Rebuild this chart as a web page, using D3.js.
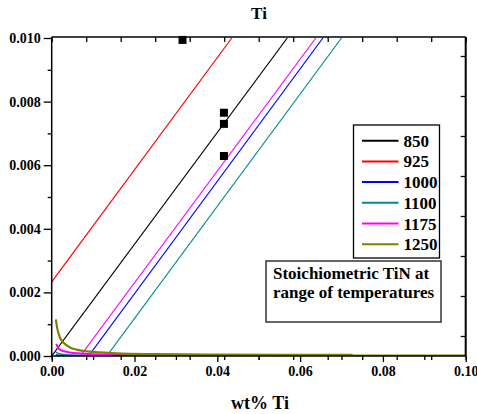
<!DOCTYPE html>
<html>
<head>
<meta charset="utf-8">
<script src="https://cdn.jsdelivr.net/npm/d3@7"></script>
<style>
  body { margin: 0; background: #fff; }
</style>
</head>
<body>
<div id="chart"></div>
<script>
// legend entries (temperatures) and their colours
const temps = ['850', '925', '1000', '1100', '1175', '1250']
const colors = ['#000000', '#ff0000', '#0000ff', '#008b8b', '#ff00ff', '#808000']

// stoichiometric straight lines: [x, y] at start and end
const stoichLines = [
  { temp: '850', pts: [[0.0, 0.0], [0.0569, 0.010]] },
  { temp: '925', pts: [[0.0, 0.00233], [0.0435, 0.010]] },
  { temp: '1000', pts: [[0.0089, 0.0], [0.0655, 0.010]] },
  { temp: '1100', pts: [[0.0133, 0.0], [0.0700, 0.010]] },
  { temp: '1175', pts: [[0.0069, 0.0], [0.0638, 0.010]] },
]

// solubility curves near the x axis (estimated points)
const curve1250 = [[0.0010, 0.00115], [0.0013, 0.00090], [0.0016, 0.00073], [0.0020, 0.00058], [0.0030, 0.00040],
  [0.0044, 0.00027], [0.0060, 0.00020], [0.0093, 0.000135], [0.0157, 0.000085], [0.0250, 0.000060],
  [0.0400, 0.000045], [0.0725, 0.000035], [0.0726, 0.000012], [0.1000, 0.000012]]
const curve1175 = [[0.0011, 0.00038], [0.0015, 0.00027], [0.0020, 0.00020], [0.0030, 0.00015], [0.0044, 0.00011],
  [0.0070, 0.00008], [0.0120, 0.00005], [0.0300, 0.00003], [0.0725, 0.00002]]
const curve1100 = [[0.0010, 0.00012], [0.0020, 0.00006], [0.0040, 0.00003], [0.0100, 0.000012], [0.0300, 0.000006]]
const curve1000 = [[0.0010, 0.00003], [0.0030, 0.000012], [0.0200, 0.000004]]

// measured points (squares)
const pointsX = [0.0316, 0.0416, 0.0416, 0.0416]
const pointsY = [0.00994, 0.00765, 0.00730, 0.00629]

// tick labels
const xTickValues = [0, 0.02, 0.04, 0.06, 0.08, 0.10]
const yTickValues = [0, 0.002, 0.004, 0.006, 0.008, 0.010]

const width = 477
const height = 414
const plot = { left: 51.7, right: 465.7, top: 38, bottom: 356 }
const serif = 'Liberation Serif'

const svg = d3.select('#chart').append('svg')
  .attr('width', width)
  .attr('height', height)

const xScale = d3.scaleLinear().domain([0, 0.1]).range([plot.left, plot.right])
const yScale = d3.scaleLinear().domain([0, 0.010]).range([plot.bottom, plot.top])
// the secondary scales used for the extra ticks on top and right
const xTop = d3.scaleLinear().domain([0, 12]).range([plot.left, plot.right])
const yRight = d3.scaleLinear().domain([0, 7.95]).range([plot.bottom, plot.top])

const colorOf = d3.scaleOrdinal().domain(temps).range(colors)

// clip the data to the plot area
svg.append('clipPath').attr('id', 'clip')
  .append('rect')
  .attr('x', plot.left).attr('y', plot.top - 1)
  .attr('width', plot.right - plot.left).attr('height', plot.bottom - plot.top + 1)

const dataGroup = svg.append('g').attr('clip-path', 'url(#clip)')
const line = d3.line().x(d => xScale(d[0])).y(d => yScale(d[1]))

dataGroup.selectAll('path.stoich')
  .data(stoichLines)
  .join('path')
  .attr('class', 'stoich')
  .attr('d', d => line(d.pts))
  .attr('fill', 'none')
  .attr('stroke', d => colorOf(d.temp))
  .attr('stroke-width', 1.2)

const curves = [
  { temp: '1000', pts: curve1000, w: 1.5 },
  { temp: '1100', pts: curve1100, w: 1.5 },
  { temp: '1175', pts: curve1175, w: 2 },
  { temp: '1250', pts: curve1250, w: 2.2 },
]
dataGroup.selectAll('path.curve')
  .data(curves)
  .join('path')
  .attr('class', 'curve')
  .attr('d', d => line.curve(d3.curveMonotoneX)(d.pts))
  .attr('fill', 'none')
  .attr('stroke', d => colorOf(d.temp))
  .attr('stroke-width', d => d.w)

// squares
svg.selectAll('rect.pt')
  .data(pointsX)
  .join('rect')
  .attr('class', 'pt')
  .attr('x', (d, i) => xScale(d) - 4)
  .attr('y', (d, i) => yScale(pointsY[i]) - 4)
  .attr('width', 8)
  .attr('height', 8)
  .attr('fill', '#000')

// axes
const bottomMajor = d3.axisBottom(xScale).tickValues(xTickValues)
  .tickFormat(d3.format('.2f')).tickSize(6).tickPadding(4)
const bottomMinor = d3.axisBottom(xScale).tickValues([0.01, 0.03, 0.05, 0.07, 0.09])
  .tickFormat('').tickSize(4)
const bottomExtra = d3.axisBottom(xTop).ticks(12).tickFormat('').tickSize(4)
const leftMajor = d3.axisLeft(yScale).tickValues(yTickValues)
  .tickFormat(d3.format('.3f')).tickSize(8).tickPadding(3)
const leftMinor = d3.axisLeft(yScale).tickValues([0.001, 0.003, 0.005, 0.007, 0.009])
  .tickFormat('').tickSize(4)
const topAxis = d3.axisBottom(xTop).ticks(12).tickFormat('').tickSize(5)
const rightAxis = d3.axisLeft(yRight).tickValues(d3.range(0.5, 8, 1)).tickFormat('').tickSize(5)

const addAxis = (axis, transform) => {
  const g = svg.append('g').attr('transform', transform).call(axis)
  g.attr('font-family', serif).attr('font-weight', 'bold')
  g.selectAll('.domain').remove()
  g.selectAll('line').attr('stroke', '#000').attr('stroke-width', 1.3)
  g.selectAll('text').attr('font-size', 14).attr('fill', '#000')
  return g
}
addAxis(bottomMajor, `translate(0,${plot.bottom})`)
addAxis(bottomMinor, `translate(0,${plot.bottom})`)
addAxis(bottomExtra, `translate(0,${plot.bottom})`)
addAxis(leftMajor, `translate(${plot.left},0)`)
addAxis(leftMinor, `translate(${plot.left},0)`)
addAxis(topAxis, `translate(0,${plot.top - 1})`)
addAxis(rightAxis, `translate(${plot.right},0)`)

// frame
svg.append('line').attr('x1', plot.left).attr('x2', plot.left)
  .attr('y1', plot.top - 1).attr('y2', plot.bottom).attr('stroke', '#000').attr('stroke-width', 1.5)
svg.append('line').attr('x1', plot.right).attr('x2', plot.right)
  .attr('y1', plot.top - 1).attr('y2', plot.bottom).attr('stroke', '#000').attr('stroke-width', 2)
svg.append('line').attr('x1', plot.left).attr('x2', plot.right)
  .attr('y1', plot.top - 1).attr('y2', plot.top - 1).attr('stroke', '#000').attr('stroke-width', 1.5)
svg.append('line').attr('x1', plot.left).attr('x2', plot.right)
  .attr('y1', plot.bottom).attr('y2', plot.bottom).attr('stroke', '#000').attr('stroke-width', 1.5)

// title and axis label
const labels = svg.append('g').attr('font-family', serif).attr('font-weight', 'bold')
labels.append('text').attr('x', 259).attr('y', 19)
  .attr('text-anchor', 'middle').attr('font-size', 17).text('Ti')
labels.append('text').attr('x', 260).attr('y', 409)
  .attr('text-anchor', 'middle').attr('font-size', 18).text('wt% Ti')

// legend
const legend = svg.append('g').attr('font-family', serif).attr('font-weight', 'bold')
legend.append('rect').attr('x', 353.5).attr('y', 125).attr('width', 86).attr('height', 133)
  .attr('fill', '#fff').attr('stroke', '#000').attr('stroke-width', 1.3)
const rows = legend.selectAll('g.row').data(temps).join('g')
  .attr('class', 'row')
  .attr('transform', (d, i) => `translate(0,${140.7 + i * 20.7})`)
rows.append('line').attr('x1', 362).attr('x2', 398.5)
  .attr('stroke', d => colorOf(d)).attr('stroke-width', 2)
rows.append('text').attr('x', 403.5).attr('y', 6).attr('font-size', 17).text(d => d)

// annotation box
const note = svg.append('g').attr('font-family', serif).attr('font-weight', 'bold')
note.append('rect').attr('x', 266).attr('y', 261).attr('width', 175).attr('height', 61)
  .attr('fill', '#fff').attr('stroke', '#333').attr('stroke-width', 1.5)
note.append('text').attr('x', 273).attr('y', 278.5).attr('font-size', 17).text('Stoichiometric TiN at')
note.append('text').attr('x', 273).attr('y', 297.5).attr('font-size', 17).text('range of temperatures')
</script>
</body>
</html>
